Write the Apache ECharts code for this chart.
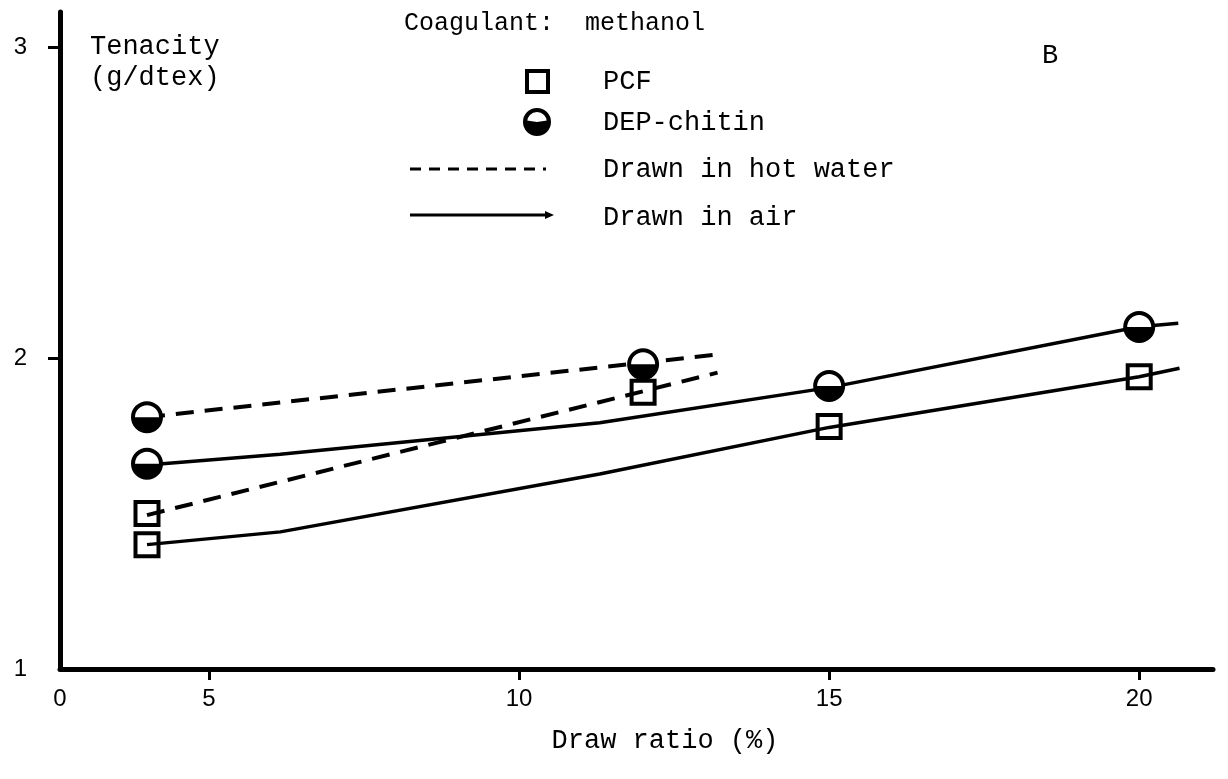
<!DOCTYPE html>
<html>
<head>
<meta charset="utf-8">
<script src="https://cdn.jsdelivr.net/npm/echarts@6/dist/echarts.min.js"></script>
<style>
  html, body { margin: 0; padding: 0; background: #fff; }
  #chart { width: 1228px; height: 779px; }
</style>
</head>
<body>
<div id="chart"></div>
<script>
// Tick positions and labels
const xTickValues = [5, 10, 15, 20];
const yTickValues = [2, 3];
const yLabelValues = [1, 2, 3];

// Measured points (draw ratio %, tenacity g/dtex)
const pcfHotX = [4, 12];
const pcfHotY = [1.50, 1.89];
const depHotX = [4, 12];
const depHotY = [1.81, 1.98];
const pcfAirX = [4, 15, 20];
const pcfAirY = [1.40, 1.78, 1.94];
const depAirX = [4, 15, 20];
const depAirY = [1.66, 1.91, 2.10];

// Hand-drawn trend lines (x, y vertices)
const depHotLine = [[4, 1.81], [13.13, 2.01]];
const pcfHotLine = [[4, 1.495], [13.2, 1.953]];
const pcfAirLine = [[4, 1.40], [6.15, 1.441], [11.3, 1.627], [15, 1.777], [20, 1.94], [20.65, 1.967]];
const depAirLine = [[4, 1.656], [6.15, 1.691], [11.3, 1.792], [15, 1.905], [20, 2.101], [20.63, 2.112]];

const X_MIN = 2.597, X_MAX = 21.19;
const MONO = '"Liberation Mono", "DejaVu Sans Mono", monospace';
const SANS = '"Liberation Sans", Arial, sans-serif';

const pairs = (xs, ys) => xs.map((x, i) => [x, ys[i]]);

// Half-filled circle: white top, black bottom, thick outline
function halfCircle(params, api) {
  const p = api.coord([api.value(0), api.value(1)]);
  const r = 14;
  return {
    type: 'group',
    children: [
      { type: 'circle', shape: { cx: p[0], cy: p[1], r: r }, style: { fill: '#fff', stroke: '#000', lineWidth: 4 } },
      { type: 'sector', shape: { cx: p[0], cy: p[1], r0: 0, r: r, startAngle: 0, endAngle: Math.PI }, style: { fill: '#000' } }
    ]
  };
}

const chart = echarts.init(document.getElementById('chart'), null, { renderer: 'canvas' });

const lineStyleSolid = { color: '#000', width: 3.5, type: 'solid' };
const lineStyleDash = { color: '#000', width: 4, type: [18, 11] };

chart.setOption({
  backgroundColor: '#fff',
  animation: false,
  grid: { left: 60, right: 15, top: 12, bottom: 110, containLabel: false },
  xAxis: {
    type: 'value',
    min: X_MIN,
    max: X_MAX,
    name: 'Draw ratio (%)',
    nameLocation: 'middle',
    nameGap: 58,
    nameTextStyle: { fontFamily: MONO, fontSize: 27, color: '#000', padding: [0, 0, 0, 57] },
    axisLine: { lineStyle: { color: '#000', width: 5 } },
    axisTick: { show: true, inside: false, length: 11, customValues: xTickValues, lineStyle: { color: '#000', width: 3 } },
    axisLabel: {
      customValues: [X_MIN].concat(xTickValues),
      formatter: v => (v < 3 ? '0' : String(v)),
      fontFamily: SANS, fontSize: 24, color: '#000', margin: 18
    },
    splitLine: { show: false }
  },
  yAxis: {
    type: 'value',
    min: 1,
    max: 3.113,
    axisLine: { show: true, lineStyle: { color: '#000', width: 5 } },
    axisTick: { show: true, inside: false, length: 12, customValues: yTickValues, lineStyle: { color: '#000', width: 3 } },
    axisLabel: { customValues: yLabelValues, fontFamily: SANS, fontSize: 24, color: '#000', margin: 33 },
    splitLine: { show: false }
  },
  series: [
    { type: 'line', data: depHotLine, symbol: 'none', lineStyle: lineStyleDash, z: 2 },
    { type: 'line', data: pcfHotLine, symbol: 'none', lineStyle: lineStyleDash, z: 2 },
    { type: 'line', data: depAirLine, symbol: 'none', lineStyle: lineStyleSolid, z: 2 },
    { type: 'line', data: pcfAirLine, symbol: 'none', lineStyle: lineStyleSolid, z: 2 },
    {
      type: 'scatter', data: pairs(pcfHotX, pcfHotY).concat(pairs(pcfAirX, pcfAirY)),
      symbol: 'rect', symbolSize: 23,
      itemStyle: { color: 'rgba(255,255,255,0)', borderColor: '#000', borderWidth: 4, opacity: 1 }, z: 3
    },
    {
      type: 'custom', renderItem: halfCircle,
      data: pairs(depHotX, depHotY).concat(pairs(depAirX, depAirY)),
      encode: { x: 0, y: 1 }, z: 4
    }
  ],
  graphic: [
    { type: 'text', left: 90, top: 31, style: { text: 'Tenacity\n(g/dtex)', font: '27px ' + MONO, fill: '#000', lineHeight: 31 } },
    { type: 'text', left: 1042, top: 42, style: { text: 'B', font: '27px ' + MONO, fill: '#000' } },
    { type: 'text', left: 404, top: 11, style: { text: 'Coagulant:', font: '25px ' + MONO, fill: '#000' } },
    { type: 'text', left: 585, top: 11, style: { text: 'methanol', font: '25px ' + MONO, fill: '#000' } },
    { type: 'rect', shape: { x: 527, y: 71, width: 21, height: 21 }, style: { fill: 'none', stroke: '#000', lineWidth: 4 } },
    { type: 'text', left: 603, top: 68, style: { text: 'PCF', font: '27px ' + MONO, fill: '#000' } },
    { type: 'circle', shape: { cx: 537, cy: 122, r: 12 }, style: { fill: '#fff', stroke: '#000', lineWidth: 4 } },
    { type: 'sector', shape: { cx: 537, cy: 122, r0: 0, r: 12, startAngle: -0.15, endAngle: Math.PI + 0.15 }, style: { fill: '#000' } },
    { type: 'text', left: 603, top: 109, style: { text: 'DEP-chitin', font: '27px ' + MONO, fill: '#000' } },
    { type: 'line', shape: { x1: 410, y1: 169, x2: 546, y2: 169 }, style: { stroke: '#000', lineWidth: 3, lineDash: [11, 8] } },
    { type: 'text', left: 603, top: 156, style: { text: 'Drawn in hot water', font: '27px ' + MONO, fill: '#000' } },
    { type: 'line', shape: { x1: 410, y1: 215, x2: 548, y2: 215 }, style: { stroke: '#000', lineWidth: 3 } },
    { type: 'polygon', shape: { points: [[545, 211], [554, 215], [545, 219]] }, style: { fill: '#000' } },
    { type: 'text', left: 603, top: 204, style: { text: 'Drawn in air', font: '27px ' + MONO, fill: '#000' } }
  ]
});
</script>
</body>
</html>
